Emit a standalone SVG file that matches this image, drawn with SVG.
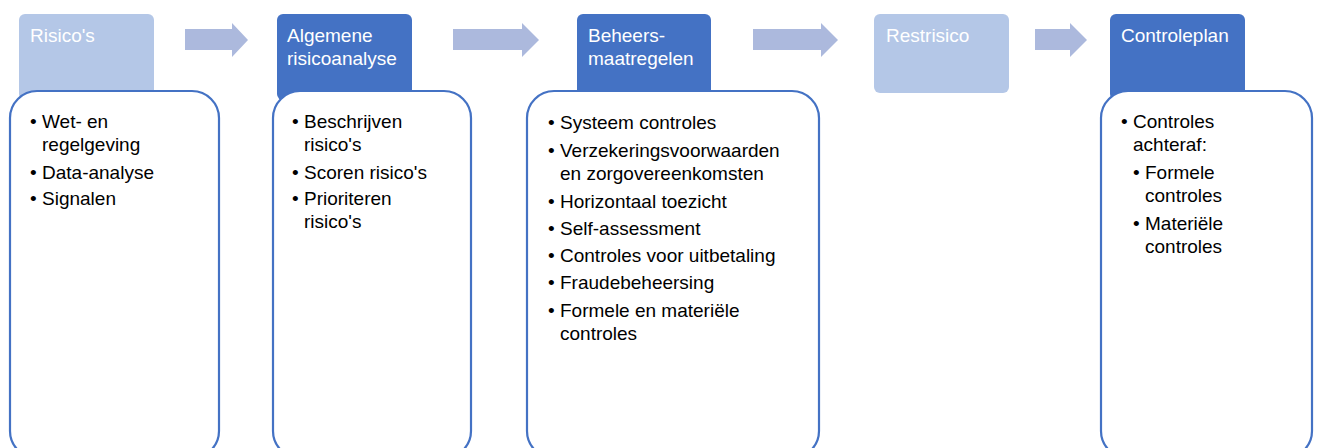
<svg xmlns="http://www.w3.org/2000/svg" width="1317" height="448" viewBox="0 0 1317 448">
<style>
.hl{fill:#b4c7e7}
.hd{fill:#4472c4}
.ht{font-family:"Liberation Sans",Arial,sans-serif;font-size:19px;fill:#ffffff}
.bx{fill:#ffffff;stroke:#4472c4;stroke-width:2.2}
.bt{font-family:"Liberation Sans",Arial,sans-serif;font-size:19px;fill:#000000}
.ar{fill:#acb9dd}
</style>
<rect width="1317" height="448" fill="#ffffff"/>
<g id="connectors">
<polygon class="ar" points="185,29 232,29 232,23 248,40 232,57 232,50 185,50"/>
<polygon class="ar" points="453,29 522,29 522,23 539,40 522,57 522,50 453,50"/>
<polygon class="ar" points="753,29 821,29 821,23 838,40 821,57 821,50 753,50"/>
<polygon class="ar" points="1035,29 1070,29 1070,23 1087,40 1070,57 1070,50 1035,50"/>
</g>
<g id="node-risicos">
<rect class="hl" x="19" y="14" width="135" height="86" rx="6"/>
<text class="ht" x="30" y="42">Risico's</text>
<rect class="bx" x="10" y="91" width="209" height="367" rx="27"/>
<text class="bt" x="30" y="128">•</text><text class="bt" x="42" y="128">Wet- en</text>
<text class="bt" x="42" y="151">regelgeving</text>
<text class="bt" x="30" y="179">•</text><text class="bt" x="42" y="179">Data-analyse</text>
<text class="bt" x="30" y="205">•</text><text class="bt" x="42" y="205">Signalen</text>
</g>
<g id="node-algemene">
<rect class="hd" x="277" y="14" width="135" height="86" rx="6"/>
<text class="ht" x="287" y="42">Algemene</text>
<text class="ht" x="287" y="65">risicoanalyse</text>
<rect class="bx" x="273" y="91" width="198" height="367" rx="27"/>
<text class="bt" x="292" y="128">•</text><text class="bt" x="304" y="128">Beschrijven</text>
<text class="bt" x="304" y="151">risico's</text>
<text class="bt" x="292" y="179">•</text><text class="bt" x="304" y="179">Scoren risico's</text>
<text class="bt" x="292" y="205">•</text><text class="bt" x="304" y="205">Prioriteren</text>
<text class="bt" x="304" y="228">risico's</text>
</g>
<g id="node-beheers">
<rect class="hd" x="577" y="14" width="134" height="86" rx="6"/>
<text class="ht" x="588" y="42">Beheers-</text>
<text class="ht" x="588" y="65">maatregelen</text>
<rect class="bx" x="527" y="91" width="292" height="367" rx="27"/>
<text class="bt" x="548" y="129">•</text><text class="bt" x="560" y="129">Systeem controles</text>
<text class="bt" x="548" y="157">•</text><text class="bt" x="560" y="157">Verzekeringsvoorwaarden</text>
<text class="bt" x="560" y="180">en zorgovereenkomsten</text>
<text class="bt" x="548" y="208">•</text><text class="bt" x="560" y="208">Horizontaal toezicht</text>
<text class="bt" x="548" y="235">•</text><text class="bt" x="560" y="235">Self-assessment</text>
<text class="bt" x="548" y="262">•</text><text class="bt" x="560" y="262">Controles voor uitbetaling</text>
<text class="bt" x="548" y="289">•</text><text class="bt" x="560" y="289">Fraudebeheersing</text>
<text class="bt" x="548" y="317">•</text><text class="bt" x="560" y="317">Formele en materiële</text>
<text class="bt" x="560" y="340">controles</text>
</g>
<g id="node-restrisico">
<rect class="hl" x="874" y="14" width="135" height="79" rx="6"/>
<text class="ht" x="886" y="42">Restrisico</text>
</g>
<g id="node-controleplan">
<rect class="hd" x="1110" y="14" width="135" height="86" rx="6"/>
<text class="ht" x="1121" y="42">Controleplan</text>
<rect class="bx" x="1101" y="91" width="211" height="367" rx="27"/>
<text class="bt" x="1121" y="128">•</text><text class="bt" x="1133" y="128">Controles</text>
<text class="bt" x="1133" y="151">achteraf:</text>
<text class="bt" x="1133" y="179">•</text><text class="bt" x="1145" y="179">Formele</text>
<text class="bt" x="1145" y="202">controles</text>
<text class="bt" x="1133" y="230">•</text><text class="bt" x="1145" y="230">Materiële</text>
<text class="bt" x="1145" y="253">controles</text>
</g>
</svg>
